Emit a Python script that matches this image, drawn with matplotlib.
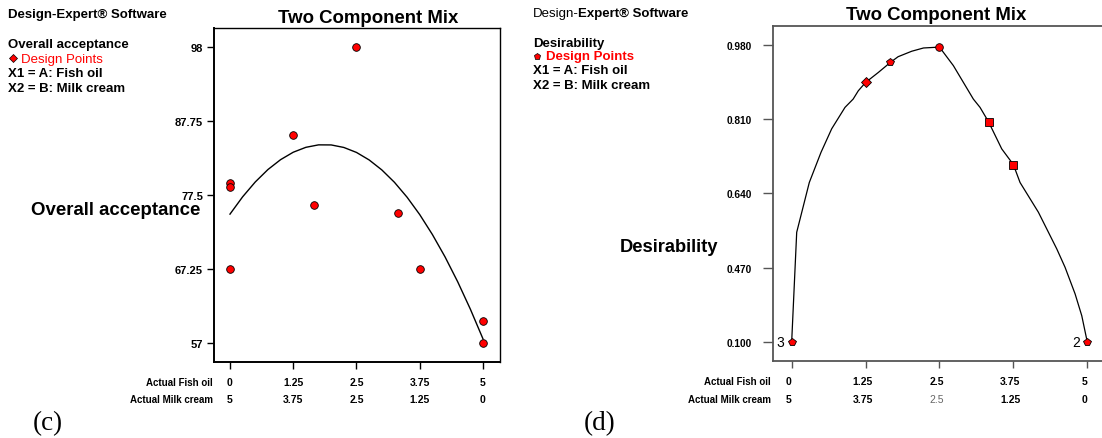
#!/usr/bin/env python3
"""Two Component Mix plots: overall acceptance (c) and desirability (d)."""

import matplotlib
matplotlib.use("Agg")
import matplotlib.pyplot as plt
from matplotlib import transforms
from matplotlib.lines import Line2D

plt.rcParams["font.family"] = ["Liberation Sans", "DejaVu Sans"]

# --- data -------------------------------------------------------------
fish_ticks = [0, 1.25, 2.5, 3.75, 5]
fish_labels = ["0", "1.25", "2.5", "3.75", "5"]
cream_labels = ["5", "3.75", "2.5", "1.25", "0"]

# (c) overall acceptance design points
acc_x = [0, 0, 0, 1.25, 1.67, 2.5, 3.33, 3.75, 5, 5]
acc_y = [79.05, 78.6, 67.25, 85.7, 76.0, 98.0, 75.0, 67.25, 60.0, 57.0]

# (c) fitted curve
acc_curve_x = [0, 0.25, 0.5, 0.75, 1.0, 1.25, 1.5, 1.75, 2.0, 2.25, 2.5,
               2.75, 3.0, 3.25, 3.5, 3.75, 4.0, 4.25, 4.5, 4.75, 5.0]
acc_curve_y = [74.8, 77.2, 79.26, 80.98, 82.35, 83.38, 84.06, 84.4, 84.39,
               84.04, 83.35, 82.31, 80.93, 79.21, 77.14, 74.73, 71.97, 68.87,
               65.42, 61.63, 57.5]
acc_yticks = [57, 67.25, 77.5, 87.75, 98]
acc_ytick_labels = ["57", "67.25", "77.5", "87.75", "98"]

# (d) desirability design points (axis units)
des_x = [0, 1.25, 1.67, 2.5, 3.33, 3.75, 5]
des_y = [0.30, 0.894, 0.940, 0.975, 0.804, 0.706, 0.30]
des_markers = ["p", "D", "p", "o", "s", "s", "p"]

# (d) desirability trace
des_curve_x = [0, 0.085, 0.298, 0.496, 0.677, 0.902, 1.04, 1.127, 1.25,
               1.466, 1.67, 1.80, 2.03, 2.23, 2.5, 2.735, 3.073, 3.186, 3.33,
               3.553, 3.75, 3.863, 4.173, 4.484, 4.624, 4.794, 4.907, 5.0]
des_curve_y = [0.30, 0.551, 0.665, 0.734, 0.788, 0.837, 0.856, 0.875, 0.894,
               0.917, 0.940, 0.953, 0.9655, 0.973, 0.975, 0.9326, 0.856,
               0.837, 0.804, 0.742, 0.706, 0.665, 0.597, 0.513, 0.471, 0.410,
               0.360, 0.30]
des_ytick_pos = [0.30, 0.47, 0.64, 0.81, 0.98]
des_ytick_labels = ["0.100", "0.470", "0.640", "0.810", "0.980"]

# --- layout helpers ---------------------------------------------------
W, H = 1102, 439


def fx(px):
    return px / W


def fy(py):
    return 1 - py / H


fig = plt.figure(figsize=(W / 100, H / 100), dpi=100)

# ---------------------------------------------------------------- (c)
ax1 = fig.add_axes([fx(214), fy(363), (500 - 214) / W, (363 - 29) / H])
ax1.plot(acc_curve_x, acc_curve_y, color="black", lw=1.0, zorder=2)
ax1.plot(acc_x, acc_y, "o", ms=5.5, mfc="#ff0000", mec="black", mew=0.6,
         zorder=3)
ax1.set_xlim(-0.316, 5.336)
ax1.set_ylim(54.3, 100.6)
ax1.set_yticks(acc_yticks)
ax1.set_yticklabels(acc_ytick_labels, fontsize=8, fontweight="bold")
ax1.set_xticks(fish_ticks)
ax1.set_xticklabels([])
ax1.tick_params(axis="y", length=5, width=1, pad=3)
ax1.tick_params(axis="x", length=5, width=1)
for s in ax1.spines.values():
    s.set_color("black")
    s.set_linewidth(1.0)
ax1.spines["left"].set_linewidth(1.4)
ax1.spines["bottom"].set_linewidth(1.4)

tr1 = transforms.blended_transform_factory(ax1.transData, fig.transFigure)
for xv, a, b in zip(fish_ticks, fish_labels, cream_labels):
    ax1.text(xv, fy(386), a, transform=tr1, ha="center", va="baseline",
             fontsize=7.5, fontweight="bold")
    ax1.text(xv, fy(403.5), b, transform=tr1, ha="center", va="baseline",
             fontsize=7.5, fontweight="bold")
fig.text(fx(213), fy(386), "Actual Fish oil", ha="right", va="baseline",
         fontsize=7, fontweight="bold")
fig.text(fx(213), fy(403.5), "Actual Milk cream", ha="right", va="baseline",
         fontsize=7, fontweight="bold")

fig.text(fx(368), fy(23), "Two Component Mix", ha="center", va="baseline",
         fontsize=13.4, fontweight="bold")
fig.text(fx(200), fy(215), "Overall acceptance", ha="right", va="baseline",
         fontsize=13.4, fontweight="bold")

fig.text(fx(8), fy(18), "Design-Expert\u00ae Software", va="baseline",
         fontsize=9.5, fontweight="bold")
fig.text(fx(8), fy(48), "Overall acceptance", va="baseline",
         fontsize=9.5, fontweight="bold")
fig.add_artist(Line2D([fx(13)], [fy(58.5)], marker="D", ms=4,
                      mfc="#ff0000", mec="black", mew=0.5,
                      transform=fig.transFigure))
fig.text(fx(21), fy(63), "Design Points", va="baseline", fontsize=9.5,
         color="#ff0000")
fig.text(fx(8), fy(77), "X1 = A: Fish oil", va="baseline", fontsize=9.5,
         fontweight="bold")
fig.text(fx(8), fy(92), "X2 = B: Milk cream", va="baseline", fontsize=9.5,
         fontweight="bold")
fig.text(fx(33), fy(430), "(c)", va="baseline", fontsize=19.5,
         family="Liberation Serif")

# ---------------------------------------------------------------- (d)
ax2 = fig.add_axes([fx(772.7), fy(361.7), (1105 - 772.7) / W,
                    (361.7 - 26.7) / H])
ax2.plot(des_curve_x, des_curve_y, color="black", lw=0.9, zorder=2)
for xv, yv, m in zip(des_x, des_y, des_markers):
    ax2.plot(xv, yv, m, ms=5.5, mfc="#ff0000", mec="black", mew=0.6,
             zorder=3)
ax2.text(-0.12, des_y[0], "3", ha="right", va="center", fontsize=10)
ax2.text(4.88, des_y[-1], "2", ha="right", va="center", fontsize=10)
ax2.set_xlim(-0.321, 5.30)
ax2.set_ylim(0.257, 1.024)
ax2.set_yticks(des_ytick_pos)
ax2.set_yticklabels(des_ytick_labels, fontsize=7.3, fontweight="bold")
ax2.set_xticks(fish_ticks)
ax2.set_xticklabels([])
ax2.tick_params(axis="y", length=7, width=1, pad=8, color="#555555")
ax2.tick_params(axis="x", length=5, width=1, color="#555555")
for s in ax2.spines.values():
    s.set_color("#555555")
    s.set_linewidth(1.3)

tr2 = transforms.blended_transform_factory(ax2.transData, fig.transFigure)
for xv, a, b in zip(fish_ticks, fish_labels, cream_labels):
    ax2.text(xv - 0.05, fy(385), a, transform=tr2, ha="center",
             va="baseline", fontsize=7.5, fontweight="bold")
    if b == "2.5":
        ax2.text(xv - 0.05, fy(403), b, transform=tr2, ha="center",
                 va="baseline", fontsize=7.5, color="#666666")
    else:
        ax2.text(xv - 0.05, fy(403), b, transform=tr2, ha="center",
                 va="baseline", fontsize=7.5, fontweight="bold")
fig.text(fx(771), fy(385), "Actual Fish oil", ha="right", va="baseline",
         fontsize=7, fontweight="bold")
fig.text(fx(771), fy(403), "Actual Milk cream", ha="right", va="baseline",
         fontsize=7, fontweight="bold")

fig.text(fx(936), fy(20), "Two Component Mix", ha="center", va="baseline",
         fontsize=13.4, fontweight="bold")
fig.text(fx(718), fy(252), "Desirability", ha="right", va="baseline",
         fontsize=13.2, fontweight="bold")

# "Design-" plain, "Expert® Software" bold, on one line
fig.text(fx(533), fy(17), "Design-", va="baseline", fontsize=9.5)
fig.text(fx(578), fy(17), "Expert\u00ae Software", va="baseline",
         fontsize=9.5, fontweight="bold")
fig.text(fx(533), fy(47), "Desirability", va="baseline", fontsize=9.5,
         fontweight="bold")
fig.add_artist(Line2D([fx(537)], [fy(57)], marker="p", ms=4.5,
                      mfc="#ff0000", mec="black", mew=0.5,
                      transform=fig.transFigure))
fig.text(fx(546), fy(60), "Design Points", va="baseline", fontsize=9.5,
         color="#ff0000", fontweight="bold")
fig.text(fx(533), fy(74), "X1 = A: Fish oil", va="baseline", fontsize=9.5,
         fontweight="bold")
fig.text(fx(533), fy(89), "X2 = B: Milk cream", va="baseline", fontsize=9.5,
         fontweight="bold")
fig.text(fx(584), fy(430), "(d)", va="baseline", fontsize=19.5,
         family="Liberation Serif")

fig.savefig("out.png", dpi=100)
plt.close(fig)
